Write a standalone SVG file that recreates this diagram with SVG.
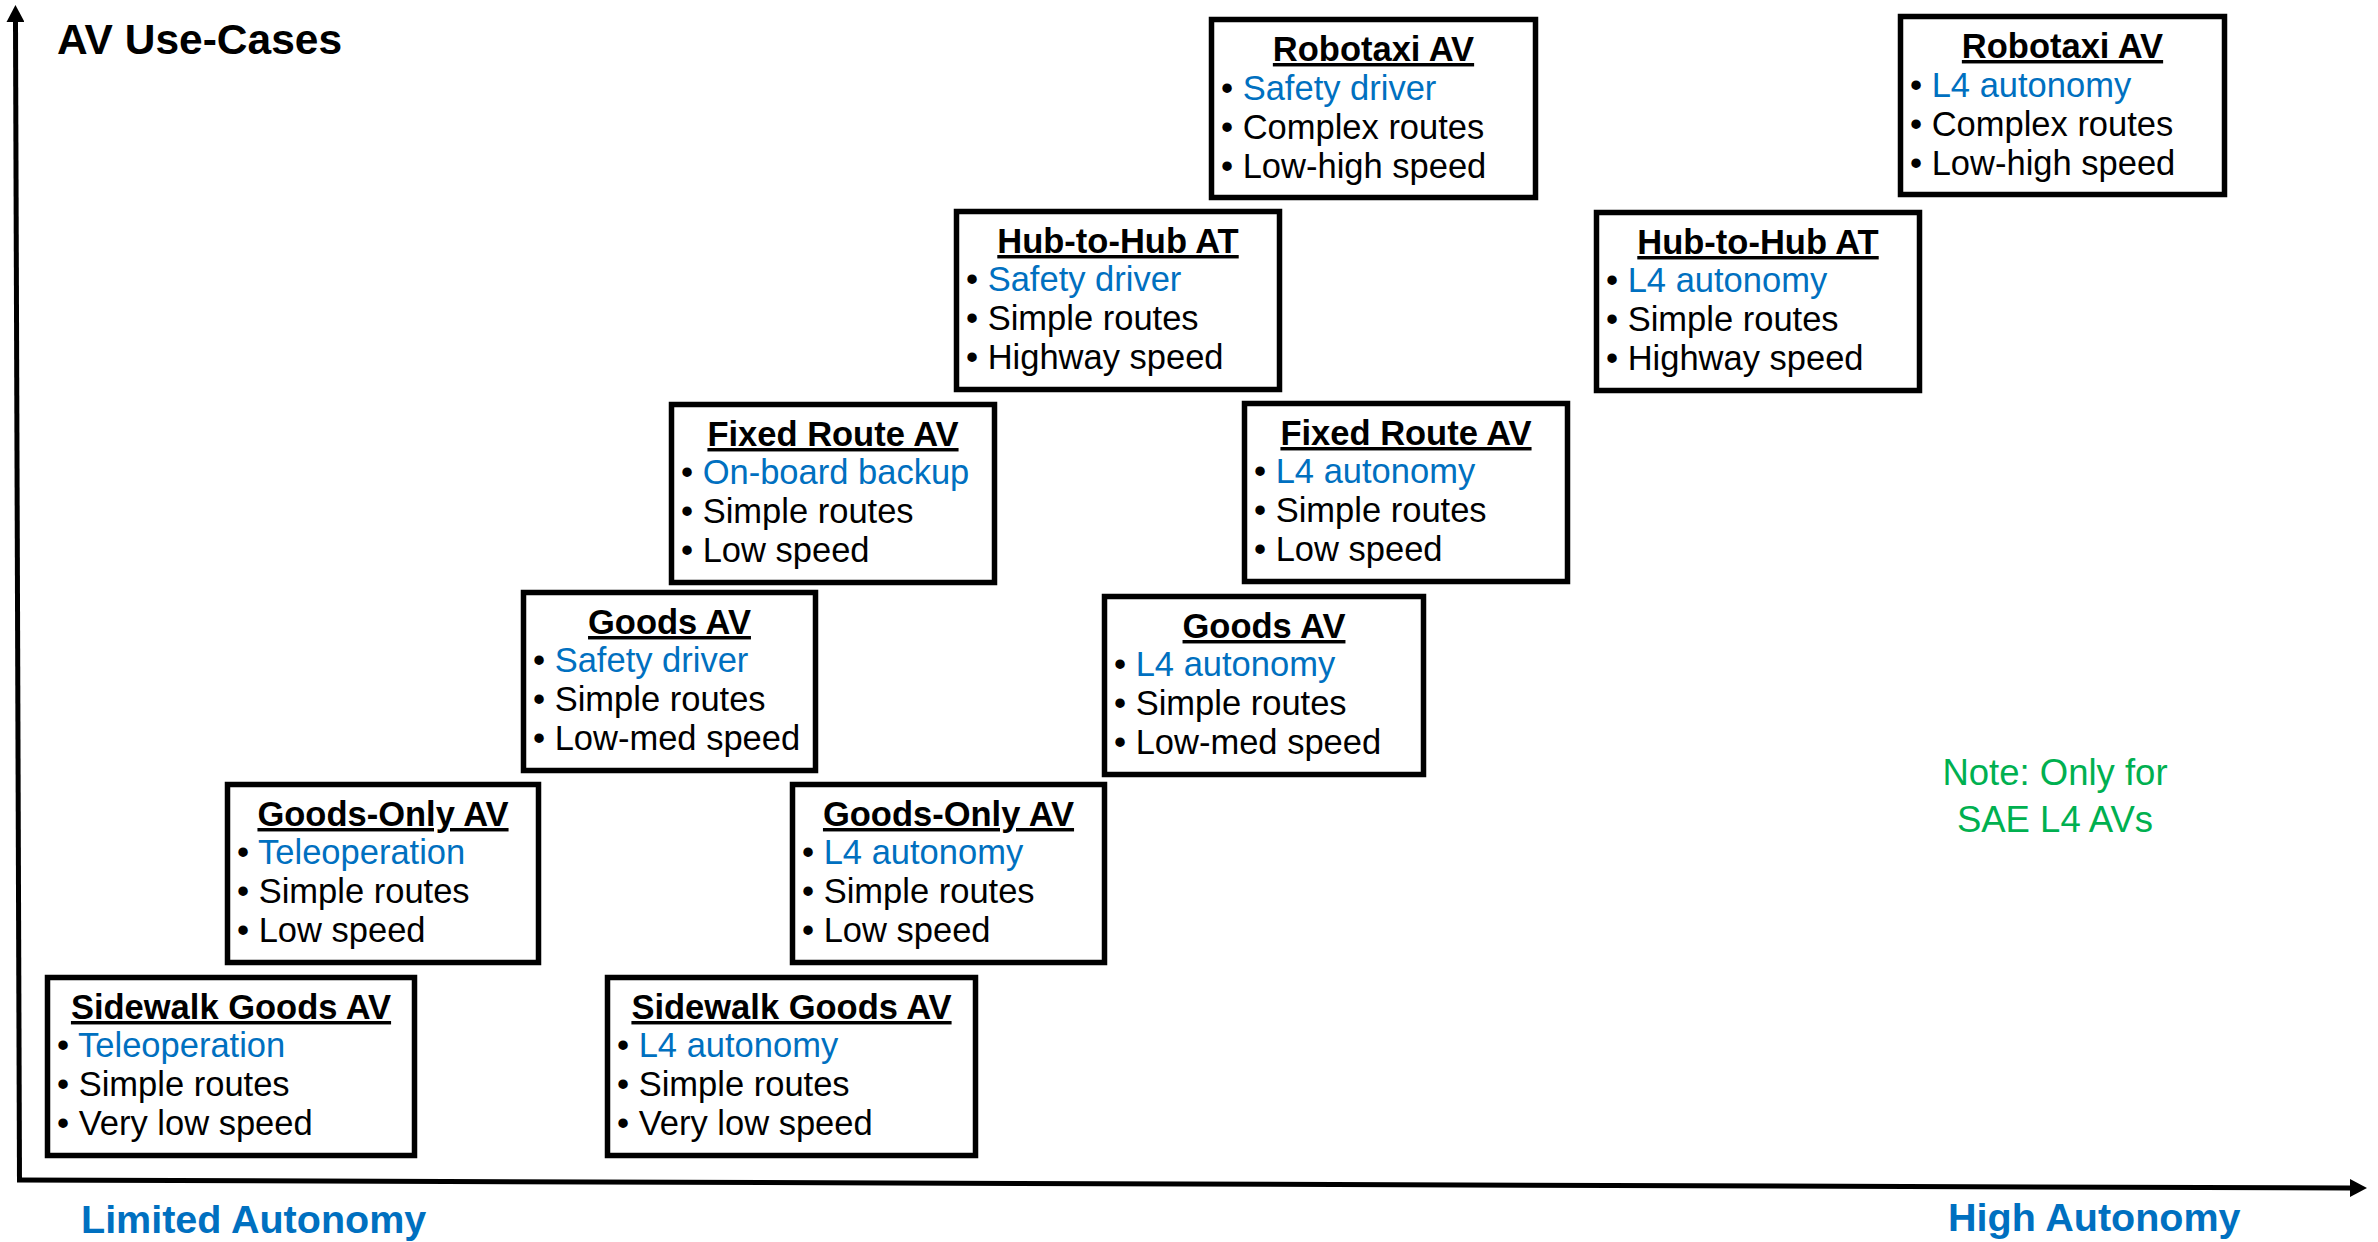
<svg xmlns="http://www.w3.org/2000/svg" width="2378" height="1242" viewBox="0 0 2378 1242">
<style>
.box{fill:#fff;stroke:#000;stroke-width:5.5}
.t{font-family:"Liberation Sans",Arial,sans-serif;font-size:34.5px;font-weight:bold;text-anchor:middle;text-decoration:underline;fill:#000}
.b{font-family:"Liberation Sans",Arial,sans-serif;font-size:34.5px;fill:#000}
.hl{fill:#0070C0}
.axis{stroke:#000;stroke-width:5;fill:none}
.lab{font-family:"Liberation Sans",Arial,sans-serif;font-size:39.5px;font-weight:bold;fill:#0070C0}
.note{font-family:"Liberation Sans",Arial,sans-serif;font-size:36.5px;fill:#00B050;text-anchor:middle}
</style>
<defs>
<marker id="arr" markerUnits="userSpaceOnUse" viewBox="0 0 17 18" refX="0" refY="9" markerWidth="17" markerHeight="18" orient="auto">
<path d="M0,0 L17,9 L0,18 Z" fill="#000"/>
</marker>
</defs>
<rect width="2378" height="1242" fill="#fff"/>
<g id="axes">
<line class="axis" x1="19.5" y1="1182" x2="15.5" y2="22" marker-end="url(#arr)"/>
<line class="axis" x1="17" y1="1180" x2="2350" y2="1188" marker-end="url(#arr)"/>
</g>
<text x="57" y="54" font-family="Liberation Sans, Arial, sans-serif" font-size="42.5" font-weight="bold">AV Use-Cases</text>
<text class="lab" x="81" y="1233">Limited Autonomy</text>
<text class="lab" x="1948" y="1231">High Autonomy</text>
<g id="note"><text class="note" x="2055" y="785">Note: Only for</text><text class="note" x="2055" y="832">SAE L4 AVs</text></g>

<g id="sidewalk-l"><rect class="box" x="47.5" y="977.5" width="367" height="178"/>
<text class="t" x="231" y="1019">Sidewalk Goods AV</text>
<text class="b" x="57" y="1057">• <tspan class="hl">Teleoperation</tspan></text>
<text class="b" x="57" y="1096">• Simple routes</text>
<text class="b" x="57" y="1135">• Very low speed</text></g>

<g id="goodsonly-l"><rect class="box" x="227.5" y="784.5" width="311" height="178"/>
<text class="t" x="383" y="826">Goods-Only AV</text>
<text class="b" x="237" y="864">• <tspan class="hl">Teleoperation</tspan></text>
<text class="b" x="237" y="903">• Simple routes</text>
<text class="b" x="237" y="942">• Low speed</text></g>

<g id="goods-l"><rect class="box" x="523.5" y="592.5" width="292" height="178"/>
<text class="t" x="669.5" y="634">Goods AV</text>
<text class="b" x="533" y="672">• <tspan class="hl">Safety driver</tspan></text>
<text class="b" x="533" y="711">• Simple routes</text>
<text class="b" x="533" y="750">• Low-med speed</text></g>

<g id="fixed-l"><rect class="box" x="671.5" y="404.5" width="323" height="178"/>
<text class="t" x="833" y="446">Fixed Route AV</text>
<text class="b" x="681" y="484">• <tspan class="hl">On-board backup</tspan></text>
<text class="b" x="681" y="523">• Simple routes</text>
<text class="b" x="681" y="562">• Low speed</text></g>

<g id="hub-l"><rect class="box" x="956.5" y="211.5" width="323" height="178"/>
<text class="t" x="1118" y="253">Hub-to-Hub AT</text>
<text class="b" x="966" y="291">• <tspan class="hl">Safety driver</tspan></text>
<text class="b" x="966" y="330">• Simple routes</text>
<text class="b" x="966" y="369">• Highway speed</text></g>

<g id="robotaxi-l"><rect class="box" x="1211.5" y="19.5" width="324" height="178"/>
<text class="t" x="1373.5" y="61">Robotaxi AV</text>
<text class="b" x="1221" y="100">• <tspan class="hl">Safety driver</tspan></text>
<text class="b" x="1221" y="139">• Complex routes</text>
<text class="b" x="1221" y="178">• Low-high speed</text></g>

<g id="sidewalk-r"><rect class="box" x="607.5" y="977.5" width="368" height="178"/>
<text class="t" x="791.5" y="1019">Sidewalk Goods AV</text>
<text class="b" x="617" y="1057">• <tspan class="hl">L4 autonomy</tspan></text>
<text class="b" x="617" y="1096">• Simple routes</text>
<text class="b" x="617" y="1135">• Very low speed</text></g>

<g id="goodsonly-r"><rect class="box" x="792.5" y="784.5" width="312" height="178"/>
<text class="t" x="948.5" y="826">Goods-Only AV</text>
<text class="b" x="802" y="864">• <tspan class="hl">L4 autonomy</tspan></text>
<text class="b" x="802" y="903">• Simple routes</text>
<text class="b" x="802" y="942">• Low speed</text></g>

<g id="goods-r"><rect class="box" x="1104.5" y="596.5" width="319" height="178"/>
<text class="t" x="1264" y="638">Goods AV</text>
<text class="b" x="1114" y="676">• <tspan class="hl">L4 autonomy</tspan></text>
<text class="b" x="1114" y="715">• Simple routes</text>
<text class="b" x="1114" y="754">• Low-med speed</text></g>

<g id="fixed-r"><rect class="box" x="1244.5" y="403.5" width="323" height="178"/>
<text class="t" x="1406" y="445">Fixed Route AV</text>
<text class="b" x="1254" y="483">• <tspan class="hl">L4 autonomy</tspan></text>
<text class="b" x="1254" y="522">• Simple routes</text>
<text class="b" x="1254" y="561">• Low speed</text></g>

<g id="hub-r"><rect class="box" x="1596.5" y="212.5" width="323" height="178"/>
<text class="t" x="1758" y="254">Hub-to-Hub AT</text>
<text class="b" x="1606" y="292">• <tspan class="hl">L4 autonomy</tspan></text>
<text class="b" x="1606" y="331">• Simple routes</text>
<text class="b" x="1606" y="370">• Highway speed</text></g>

<g id="robotaxi-r"><rect class="box" x="1900.5" y="16.5" width="324" height="178"/>
<text class="t" x="2062.5" y="58">Robotaxi AV</text>
<text class="b" x="1910" y="97">• <tspan class="hl">L4 autonomy</tspan></text>
<text class="b" x="1910" y="136">• Complex routes</text>
<text class="b" x="1910" y="175">• Low-high speed</text></g>
</svg>
